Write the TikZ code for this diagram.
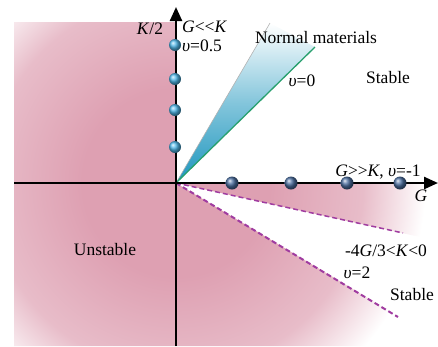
\documentclass[tikz,border=0pt]{standalone}
\usepackage{fontspec}
\setmainfont{Liberation Serif}
\usetikzlibrary{positioning,arrows.meta}
\usepackage{xcolor}

\definecolor{pinkc}{RGB}{222,160,178}
\definecolor{tealc}{RGB}{30,150,190}
\definecolor{greenc}{RGB}{40,160,110}
\definecolor{dashc}{RGB}{160,60,160}
\definecolor{lightbead}{RGB}{80,185,235}
\definecolor{darkbead}{RGB}{75,110,160}
\pgfdeclareradialshading{pinkfade}{\pgfpoint{0bp}{0bp}}{color(0bp)=(pinkc); color(9bp)=(pinkc); color(18bp)=(pinkc!70); color(24bp)=(white); color(50bp)=(white)}

\tikzset{
  lbl/.style={font=\fontsize{17.5}{20}\selectfont,inner sep=0pt},
  ybead/.style={circle,inner sep=0pt,minimum size=12pt,ball color=lightbead},
  xbead/.style={circle,inner sep=0pt,minimum size=13pt,ball color=darkbead},
  bound/.style={dashc,dash pattern=on 5pt off 3pt},
  axis/.style={line width=2.4pt,-{Triangle[length=14pt,width=12pt]}}
}

\begin{document}
\begin{tikzpicture}[x=1pt,y=-1pt]
\useasboundingbox (0,0) rectangle (438,346);
\coordinate (O) at (176,183);
% unstable zones
\begin{scope}
\clip (14,22) rectangle (176,346)
  (176,183) -- (438,183) -- (438,241) -- cycle
  (176,183) -- (438,340) -- (438,346) -- (176,346) -- cycle;
\shade[shading=pinkfade] (O) circle (260pt);
\end{scope}
% normal materials wedge
\coordinate (wl) at (270,23);
\coordinate (wr) at (315,47);
\shade[top color=white,bottom color=tealc,middle color=tealc!55] (O) -- (wl) -- (wr) -- cycle;
\draw[gray!60,line width=0.6pt] (O) -- (wl);
\draw[greenc,line width=1.3pt] (O) -- (wr);
% negative K bounds
\coordinate (d1) at (403,233);
\coordinate (d2) at (398,317);
\draw[bound,line width=1.5pt] (O) -- (d1);
\draw[bound,line width=2pt] (O) -- (d2);
% axes
\coordinate (xs) at (14,183);
\coordinate (xe) at (438,183);
\coordinate (ys) at (176,346);
\coordinate (ye) at (176,7);
\draw[axis] (xs) -- (xe);
\draw[axis] (ys) -- (ye);
% beads
\foreach \y [count=\i] in {45,79,110,147}
  \node[ybead] (v\i) at (175,\y) {};
\foreach \x [count=\i] in {232,291,347,400}
  \node[xbead] (h\i) at (\x,183) {};
% labels
\node[lbl] (kaxis) at (150,29) {\textit{K}/2};
\node[lbl,anchor=west] (gllk) at (182,27) {\textit{G}<{}<\textit{K}};
\node[lbl,anchor=west] (nu05) at (182,46) {\textit{υ}=0.5};
\node[lbl] (normal) at (316,38) {Normal materials};
\node[lbl] (nu0) at (302,81) {\textit{υ}=0};
\node[lbl] (stab1) at (388,78) {Stable};
\node[lbl] (ggk) at (378,172) {\textit{G}>{}>\textit{K}, \textit{υ}=-1};
\node[lbl] (gaxis) at (421,196) {\textit{G}};
\node[lbl] (unst) at (105,250) {Unstable};
\node[lbl] (range) at (386,251) {-4\textit{G}/3<\textit{K}<0};
\node[lbl] (nu2) at (357,273) {\textit{υ}=2};
\node[lbl] (stab2) at (412,295) {Stable};
\end{tikzpicture}
\end{document}
